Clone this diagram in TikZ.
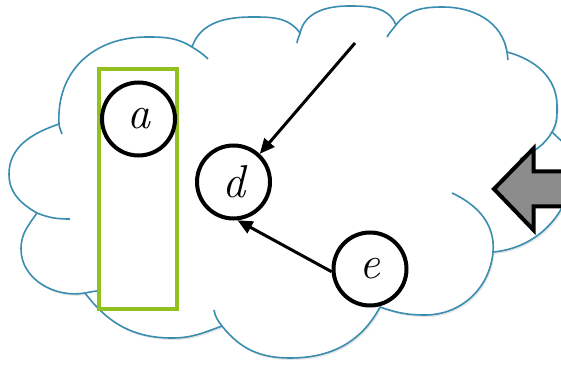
\documentclass[tikz,border=0pt]{standalone}
\usepackage{fontspec}
\usepackage{tikz}
\usetikzlibrary{arrows.meta,shadows}
\usepackage{xcolor}
\definecolor{cloudblue}{HTML}{3B8DAF}
\definecolor{boxgreen}{HTML}{92C01E}
\definecolor{blockgray}{HTML}{8C8C8C}

\begin{document}
\begin{tikzpicture}[x=1pt, y=1pt,
  cloudline/.style={draw=cloudblue, line width=1.6pt},
  var/.style={circle, draw, line width=4pt, fill=white, minimum size=73pt, inner sep=0pt, font=\fontsize{46}{50}\selectfont\itshape},
  groupbox/.style={draw=boxgreen, line width=4pt, fill=white, minimum width=78pt, minimum height=239pt, inner sep=0pt},
  link/.style={-{Triangle[length=15pt, width=13pt]}, line width=3pt},
]
  \useasboundingbox (0,0) rectangle (561,364);
  \clip (0,0) rectangle (561,364);

  \draw[cloudline, fill=white, drop shadow={shadow xshift=1.5pt, shadow yshift=-2pt, opacity=0.2}]
    (59,240) to[out=93,in=180,looseness=1.1] (147,327) to[out=0,in=148] (192,317)
    to[out=71,in=180] (252,347) to[out=0,in=126] (300,331)
    to[out=77,in=180] (349,358) to[out=0,in=112] (396,339)
    to[out=53,in=180] (443,357) to[out=0,in=99] (507,312)
    to[out=-15,in=90] (557,258) to[out=-90,in=60] (552,232)
    to[out=-45,in=90] (573,200) to[out=-90,in=5] (493,112)
    to[out=-95,in=0] (425,49) to[out=180,in=-19] (380,57)
    to[out=-118,in=0] (290,6) to[out=180,in=-52] (222,38)
    to[out=200,in=0] (172,26) to[out=180,in=-53] (85,71)
    to[out=190,in=-90] (21,115) to[out=90,in=-125] (37,151)
    to[out=150,in=-90] (9,190) to[out=90,in=-161] (59,240)
    -- cycle;

  \draw[cloudline] (59,240) to[out=-87,in=105] (62,230);
  \draw[cloudline] (192,317) to[out=-32,in=135] (208,305);
  \draw[cloudline] (300,331) to[out=-103,in=85] (297,321);
  \draw[cloudline] (396,339) to[out=233,in=60] (387,327);
  \draw[cloudline] (507,312) to[out=-81,in=95] (508,304);
  \draw[cloudline] (552,232) to[out=-120,in=30] (520,205);
  \draw[cloudline] (493,112) to[out=85,in=-25] (452,171);
  \draw[cloudline] (222,38) to[out=128,in=-80] (214,54);
  \draw[cloudline] (85,71) to[out=10,in=185] (97,73);
  \draw[cloudline] (37,151) to[out=-22,in=180] (70,145);

  \node[groupbox] (grp) at (137.5,175) {};
  \node[var] (a) at (138.5,245) {a};
  \node[var] (d) at (233.5,182) {d};
  \node[var] (e) at (370,95) {e};
  \coordinate (src) at (355,321);

  \draw[link] (src) -- (d.47);
  \draw[link] (e.184) -- (d.-84);

  \draw[line width=4pt, fill=blockgray, miter limit=10]
    (494,175) -- (533.5,215.5) -- (533.5,192.5) -- (575,192.5)
    -- (575,157.5) -- (533.5,157.5) -- (533.5,134) -- cycle;
\end{tikzpicture}
\end{document}
